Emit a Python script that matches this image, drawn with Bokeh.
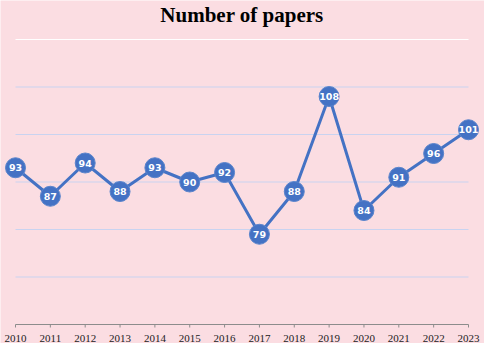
from bokeh.plotting import figure
from bokeh.models import ColumnDataSource, Range1d
from bokeh.core.properties import value
from bokeh.embed import file_html
from bokeh.resources import INLINE

years = [2010, 2011, 2012, 2013, 2014, 2015, 2016, 2017, 2018, 2019, 2020, 2021, 2022, 2023]
papers = [93, 87, 94, 88, 93, 90, 92, 79, 88, 108, 84, 91, 96, 101]
grid_values = [70, 80, 90, 100, 110]
top_grid = 120
y_min = 60
title_text = "Number of papers"

BLUE = "#4472C4"
PINK = "#FBDDE2"

# layout scale (pixels per data unit), used only to place annotations
px_per_year = 453 / 13.0
px_per_unit = 285 / 60.0

p = figure(width=484, height=343, output_backend="svg", toolbar_location=None,
           x_range=Range1d(years[0] - 15 / px_per_year, years[-1] + 16 / px_per_year),
           y_range=Range1d(y_min - 19 / px_per_unit, top_grid + 39 / px_per_unit),
           x_axis_location=None, y_axis_location=None,
           min_border_left=0, min_border_right=0, min_border_top=0, min_border_bottom=0)

p.background_fill_color = PINK
p.border_fill_color = PINK
p.outline_line_color = None
p.xgrid.visible = False
p.ygrid.visible = False

# gridlines
n = len(grid_values)
p.segment(x0=[years[0]] * n, x1=[years[-1]] * n, y0=grid_values, y1=grid_values,
          line_color="#C9D3F0", line_width=1.2)
p.segment(x0=[years[0]], x1=[years[-1]], y0=[top_grid], y1=[top_grid],
          line_color="#FFFFFF", line_width=1.2)

# axis line, ticks and tick labels
p.segment(x0=[years[0]], x1=[years[-1]], y0=[y_min], y1=[y_min],
          line_color="#8C8C8C", line_width=1)
m = len(years)
p.segment(x0=years, x1=years, y0=[y_min] * m, y1=[y_min - 3 / px_per_unit] * m,
          line_color="#8C8C8C", line_width=1)
p.text(x=years, y=[y_min - 13.5 / px_per_unit] * m, text=[str(y) for y in years],
       text_font=value("Liberation Serif"), text_font_size="11px", text_color="#222222",
       text_align="center", text_baseline="middle")

# title
p.text(x=[(years[0] + years[-1]) / 2], y=[top_grid + 25 / px_per_unit], text=[title_text],
       text_font=value("Liberation Serif"), text_font_style="bold", text_font_size="21px",
       text_color="#000000", text_align="center", text_baseline="middle")

src = ColumnDataSource(dict(x=years, y=papers, lab=[str(v) for v in papers]))
p.line("x", "y", source=src, line_color=BLUE, line_width=3)
p.scatter("x", "y", source=src, size=20, fill_color=BLUE, line_color="#5A84CC",
          line_width=1)
p.text("x", "y", text="lab", source=src, text_color="white", text_font=value("DejaVu Sans"),
       text_font_style="bold", text_font_size="9.5px", text_align="center",
       text_baseline="middle")

open("out.html", "w").write(file_html(p, INLINE))
